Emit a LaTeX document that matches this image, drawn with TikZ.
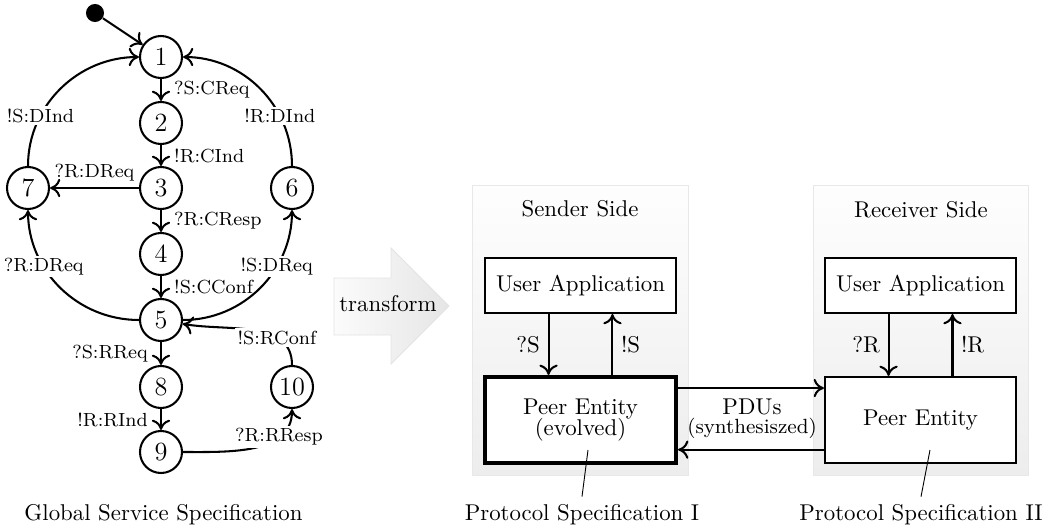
\documentclass[tikz,border=0pt]{standalone}
\usetikzlibrary{arrows.meta,calc}
\begin{document}
\begin{tikzpicture}[x=0.438pt,y=-0.438pt,
  >={To[length=4.5pt,width=8pt]},
  state/.style={circle,draw,line width=0.9pt,minimum size=18.4pt,inner sep=0pt,fill=white,font=\fontsize{11.5}{13}\selectfont},
  initdot/.style={circle,fill=black,minimum size=7.9pt,inner sep=0pt},
  conn/.style={->,line width=0.9pt},
  lbl/.style={font=\fontsize{8.3}{10}\selectfont},
  onlbl/.style={font=\fontsize{8.3}{10}\selectfont,fill=white,inner sep=1pt},
  sidebg/.style={top color=gray!1,bottom color=gray!14,draw=gray!18},
  uabox/.style={draw,line width=0.9pt,fill=white,minimum width=83.7pt,minimum height=24.1pt,inner sep=0pt},
  peerbox/.style={draw,line width=0.9pt,fill=white,minimum width=83.7pt,minimum height=37.7pt,inner sep=0pt,align=center},
]
\useasboundingbox (0,0) rectangle (1046,531);

% ---------- global service specification ----------
\node[initdot] (init) at (95,13) {};
\node[state] (s1) at (161,57) {1};
\node[state] (s2) at (161,123) {2};
\node[state] (s3) at (161,188) {3};
\node[state] (s4) at (161,254) {4};
\node[state] (s5) at (161,320) {5};
\node[state] (s8) at (161,387) {8};
\node[state] (s9) at (161,452) {9};
\node[state] (s7) at (28,188) {7};
\node[state] (s6) at (292,188) {6};
\node[state] (s10) at (292,387) {10};

\draw[conn] (init) -- (s1);
\draw[conn] (s1) -- node[lbl,right=2pt]{?S:CReq} (s2);
\draw[conn] (s2) -- node[lbl,right=2pt]{!R:CInd} (s3);
\draw[conn] (s3) -- node[lbl,right=2pt]{?R:CResp} (s4);
\draw[conn] (s4) -- node[lbl,right=2pt]{!S:CConf} (s5);
\draw[conn] (s5) -- node[lbl,left=2pt]{?S:RReq} (s8);
\draw[conn] (s8) -- node[lbl,left=2pt]{!R:RInd} (s9);
\draw[conn] (s3) -- node[lbl,above=-1pt]{?R:DReq} (s7);
\draw[conn] (s7) to[out=90,in=180] node[onlbl,pos=0.3]{!S:DInd} (s1);
\draw[conn] (s6) to[out=90,in=0] node[onlbl,pos=0.3]{!R:DInd} (s1);
\draw[conn] (s5) to[out=180,in=-90] node[onlbl,pos=0.66]{?R:DReq} (s7);
\draw[conn] (s5) to[out=0,in=-90] node[onlbl,pos=0.66]{!S:DReq} (s6);
\draw[conn] (s10) to[out=90,in=-10] node[onlbl,pos=0.3]{!S:RConf} (s5);
\draw[conn] (s9) to[out=0,in=-90] node[onlbl,pos=0.72]{?R:RResp} (s10);

\node (capG) at (163.5,515) {Global Service Specification};

% ---------- transform arrow ----------
\path[left color=gray!3,right color=gray!20,draw=gray!22]
  (334,278) -- (391,278) -- (391,248) -- (449,306) -- (391,364) -- (391,335) -- (334,335) -- cycle;
\node (transform) at (388,304) {transform};

% ---------- protocol specifications ----------
\path[sidebg] (472,185) rectangle (688,475);
\path[sidebg] (813,185) rectangle (1028,475);
\node (sendtitle) at (580,209) {Sender Side};
\node (recvtitle) at (921,210) {Receiver Side};

\node[uabox] (uaS) at (580.5,285.5) {User Application};
\node[uabox] (uaR) at (920.5,285.5) {User Application};
\node[peerbox,line width=1.8pt] (peS) at (580.5,420) {Peer Entity\\[-3pt](evolved)};
\node[peerbox] (peR) at (920.5,420) {Peer Entity};

\draw[conn] ([xshift=-14pt]uaS.south) -- node[left]{?S} ([xshift=-14pt]peS.north);
\draw[conn] ([xshift=14pt]peS.north) -- node[right]{!S} ([xshift=14pt]uaS.south);
\draw[conn] ([xshift=-14pt]uaR.south) -- node[left]{?R} ([xshift=-14pt]peR.north);
\draw[conn] ([xshift=14pt]peR.north) -- node[right]{!R} ([xshift=14pt]uaR.south);

\draw[conn] ([yshift=14pt]peS.east) -- ([yshift=14pt]peR.west);
\draw[conn] ([yshift=-13pt]peR.west) -- ([yshift=-13pt]peS.east);
\node (pdus) at (752,407) {PDUs};
\node[font=\small] (synth) at (752,428) {(synthesiszed)};

\coordinate (pinS) at (588,450);
\coordinate (pinR) at (930,450);
\node (capS) at (582,515) {Protocol Specification I};
\node (capR) at (921,515) {Protocol Specification II};
\draw (pinS) -- (capS.north);
\draw (pinR) -- (capR.north);
\end{tikzpicture}
\end{document}
